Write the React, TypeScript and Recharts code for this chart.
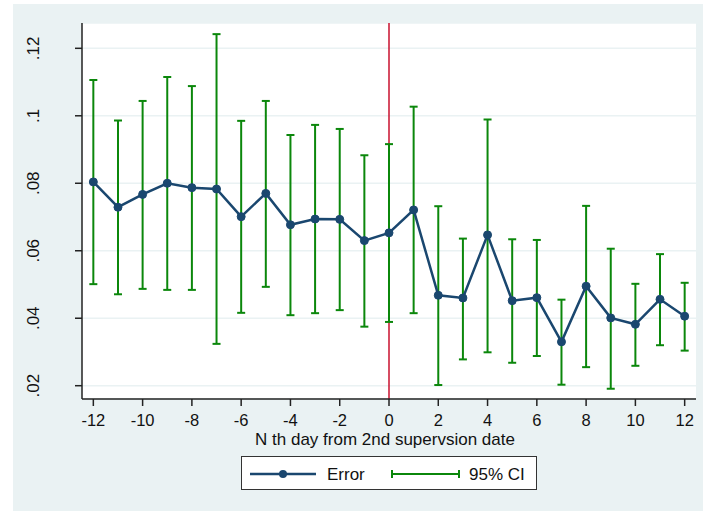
import { ComposedChart, Line, ErrorBar, XAxis, YAxis, CartesianGrid, ReferenceLine, Label } from 'recharts';

const days = [-12, -11, -10, -9, -8, -7, -6, -5, -4, -3, -2, -1, 0, 1, 2, 3, 4, 5, 6, 7, 8, 9, 10, 11, 12];
const errorRate = [0.0804, 0.0729, 0.0767, 0.08, 0.0787, 0.0783, 0.0701, 0.077, 0.0677, 0.0694, 0.0693, 0.063, 0.0653,
  0.0721, 0.0468, 0.046, 0.0647, 0.0452, 0.0461, 0.033, 0.0495, 0.0401, 0.0382, 0.0456, 0.0406];
const ciLow = [0.0501, 0.0471, 0.0487, 0.0484, 0.0484, 0.0324, 0.0416, 0.0493, 0.0409, 0.0415, 0.0424, 0.0375, 0.0389,
  0.0415, 0.0202, 0.0278, 0.0299, 0.0268, 0.0288, 0.0203, 0.0255, 0.0191, 0.0259, 0.032, 0.0304];
const ciHigh = [0.1106, 0.0986, 0.1044, 0.1115, 0.1088, 0.1242, 0.0985, 0.1044, 0.0943, 0.0973, 0.0961, 0.0883, 0.0916,
  0.1027, 0.0732, 0.0636, 0.0989, 0.0634, 0.0632, 0.0455, 0.0733, 0.0606, 0.0502, 0.059, 0.0505];

const xTicks = [-12, -10, -8, -6, -4, -2, 0, 2, 4, 6, 8, 10, 12];
const yTicks = [0.02, 0.04, 0.06, 0.08, 0.1, 0.12];

const data = days.map((d, i) => ({
  day: d,
  error: errorRate[i],
  ci: [errorRate[i] - ciLow[i], ciHigh[i] - errorRate[i]],
}));

const NAVY = '#1a476f';
const GREEN = '#0b870b';
const BG = '#eaf2f3';
const FONT = '"Liberation Sans", Arial, sans-serif';

const YTick = ({ y, payload }: any) => (
  <text x={39} y={y} transform={`rotate(-90, 39, ${y})`} textAnchor="middle" fontSize={17} fontFamily={FONT} fill="#111">
    {String(payload.value).replace(/^0/, '')}
  </text>
);

const XTick = ({ x, payload }: any) => (
  <text x={x} y={425.5} textAnchor="middle" fontSize={16.5} fontFamily={FONT} fill="#111">
    {payload.value}
  </text>
);

export default function App() {
  return (
    <div style={{ position: 'absolute', left: 0, top: 0, width: 703, height: 511, background: '#fff' }}>
      <div style={{ position: 'absolute', left: 13, top: 4, width: 690, height: 507, background: BG }} />
      <div style={{ position: 'absolute', left: 0, top: 0 }}>
        <ComposedChart width={703} height={511} data={data} margin={{ top: 23, right: 7, left: 0, bottom: 82 }}>
          <CartesianGrid vertical={false} fill="#fff" stroke={BG} strokeWidth={1.5} />
          <XAxis
            dataKey="day"
            type="number"
            domain={[-12.46, 12.46]}
            ticks={xTicks}
            height={30}
            stroke="#222"
            strokeWidth={1.5}
            tickSize={7}
            tick={<XTick />}
            interval={0}
          >
            <Label
              content={({ viewBox }: any) => (
                <text x={viewBox.x + viewBox.width / 2 - 4} y={445} textAnchor="middle" fontSize={17} fontFamily={FONT} fill="#111">
                  N th day from 2nd supervsion date
                </text>
              )}
            />
          </XAxis>
          <YAxis
            type="number"
            domain={[0.01606, 0.1275]}
            ticks={yTicks}
            allowDataOverflow
            width={82}
            stroke="#222"
            strokeWidth={1.5}
            tickSize={7}
            tick={<YTick />}
            interval={0}
          />
          <ReferenceLine x={0} stroke="#c8102e" strokeWidth={1.5} />
          <Line
            dataKey="error"
            stroke={NAVY}
            strokeWidth={2.5}
            dot={{ r: 4, fill: NAVY, stroke: NAVY, strokeWidth: 1 }}
            isAnimationActive={false}
          >
            <ErrorBar dataKey="ci" direction="y" width={4} stroke={GREEN} strokeWidth={2} />
          </Line>
        </ComposedChart>
      </div>
      <div
        style={{
          position: 'absolute', left: 241, top: 456, width: 294, height: 32,
          background: '#fff', border: '1px solid #333', fontFamily: FONT, fontSize: 17, color: '#111',
        }}
      >
        <svg width={294} height={32} style={{ position: 'absolute', left: 0, top: 0 }}>
          <line x1={8} y1={17} x2={74} y2={17} stroke={NAVY} strokeWidth={2.5} />
          <circle cx={41} cy={17} r={4} fill={NAVY} />
          <line x1={150} y1={17} x2={217} y2={17} stroke={GREEN} strokeWidth={2} />
          <line x1={150} y1={13} x2={150} y2={21} stroke={GREEN} strokeWidth={2} />
          <line x1={217} y1={13} x2={217} y2={21} stroke={GREEN} strokeWidth={2} />
          <text x={85} y={23} fontSize={17} fontFamily={FONT} fill="#111">Error</text>
          <text x={227} y={23} fontSize={17} fontFamily={FONT} fill="#111">95% CI</text>
        </svg>
      </div>
    </div>
  );
}
